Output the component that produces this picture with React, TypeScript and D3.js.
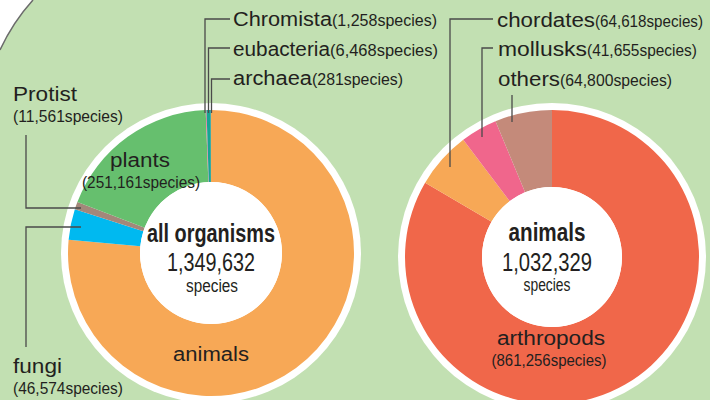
import React from 'react';
import * as d3 from 'd3';

// all organisms, clockwise from 12 o'clock
const leftNames = ['animals', 'fungi', 'Protist', 'plants', 'Chromista', 'eubacteria', 'archaea'];
const leftValues = [1032329, 46574, 11561, 251161, 1258, 6468, 281];
const leftColors = ['#f7a856', '#00b9f0', '#a3877a', '#66bf6e', '#ec6f9c', '#17a592', '#6a8fc8'];

// animals, clockwise from 12 o'clock
const rightNames = ['arthropods', 'chordates', 'mollusks', 'others'];
const rightValues = [861256, 64618, 41655, 64800];
const rightColors = ['#f0674a', '#f7a856', '#f0668c', '#c48a7a'];

const W = 710;
const H = 400;
const BG = '#c2e0b2';
const INK = '#231f20';
const LINE = '#4a4a4a';
const FONT = "'Liberation Sans', Arial, Helvetica, sans-serif";
const VSIZE = 16.5; // size of the "(n species)" parts

const fmt = d3.format(',');
const species = (v: number) => `(${fmt(v)}species)`;

const pie = d3.pie<number>().sort(null).value(d => d).startAngle(0).endAngle(2 * Math.PI);

// text squeezed to the width it has in the reference
const Fit = ({ x, y, w, size, children, anchor = 'start', bold = false }) => (
  <text x={x} y={y} textAnchor={anchor} fontFamily={FONT} fontSize={size}
    fontWeight={bold ? 'bold' : 'normal'} fill={INK} textLength={w} lengthAdjust="spacingAndGlyphs">
    {children}
  </text>
);

// name + (value) on one line
const Inline = ({ x, y, nw, vw, name, value }) => (
  <g>
    <Fit x={x} y={y} w={nw} size={20}>{name}</Fit>
    <Fit x={x + nw} y={y} w={vw} size={VSIZE}>{species(value)}</Fit>
  </g>
);

// name above (value)
const Stack = ({ x, y, nw, vw, name, value, anchor = 'start', vx = x }) => (
  <g>
    <Fit x={x} y={y} w={nw} size={20} anchor={anchor}>{name}</Fit>
    <Fit x={vx} y={y + 21} w={vw} size={VSIZE} anchor={anchor}>{species(value)}</Fit>
  </g>
);

const Donut = ({ cx, cy, r, inner, values, colors }) => {
  const arc = d3.arc<d3.PieArcDatum<number>>().innerRadius(inner).outerRadius(r);
  const slices = pie(values);
  return (
    <g transform={`translate(${cx},${cy})`}>
      <circle r={r + 7} fill="#fff" />
      {slices.map((s, i) => (
        <path key={i} d={arc(s) || ''} fill={colors[i]} />
      ))}
      <circle r={inner} fill="#fff" />
    </g>
  );
};

const poly = (pts: number[][]) => d3.line()(pts as [number, number][]) || '';

export default function App() {
  const L = { cx: 211, cy: 253, r: 143, inner: 71 };
  const R = { cx: 552, cy: 257, r: 147, inner: 70 };

  return (
    <div style={{ position: 'absolute', left: 0, top: 0 }}>
      <svg width={W} height={H} style={{ display: 'block' }}>
        <rect width={W} height={H} fill={BG} />
        {/* white corner of the page */}
        <path d="M0,0 L33,0 Q13,22 0,50 Z" fill="#fff" />
        <path d="M33,0 Q13,22 0,50" fill="none" stroke="#6b6b6b" strokeWidth={1.5} />

        <Donut {...L} values={leftValues} colors={leftColors} />
        <Donut {...R} values={rightValues} colors={rightColors} />

        {/* centre texts */}
        <Fit x={L.cx} y={242} w={128} size={25} anchor="middle" bold>all organisms</Fit>
        <Fit x={L.cx} y={271} w={88} size={25} anchor="middle">{fmt(d3.sum(leftValues))}</Fit>
        <Fit x={L.cx + 1} y={292} w={52} size={18} anchor="middle">species</Fit>
        <Fit x={R.cx - 5} y={241} w={77} size={25} anchor="middle" bold>animals</Fit>
        <Fit x={R.cx - 5} y={271} w={90} size={25} anchor="middle">{fmt(d3.sum(rightValues))}</Fit>
        <Fit x={R.cx - 5} y={291} w={47} size={18} anchor="middle">species</Fit>

        <g fill="none" stroke={LINE} strokeWidth={1.3}>
          {/* left leaders */}
          <path d={poly([[26, 135], [26, 208], [81, 208]])} />
          <path d={poly([[26, 347], [26, 227], [81, 227]])} />
          <path d={poly([[230, 19], [205, 19], [205, 113]])} />
          <path d={poly([[230, 48], [208.5, 48], [208.5, 113]])} />
          <path d={poly([[230, 79], [211.5, 79], [211.5, 113]])} />
          {/* right leaders */}
          <path d={poly([[493, 19], [450, 19], [450, 167]])} />
          <path d={poly([[493, 48], [482, 48], [482, 137]])} />
          <path d={poly([[512, 95], [512, 122]])} />
        </g>

        {/* left labels */}
        <Inline x={233} y={26} nw={99} vw={105} name={leftNames[4]} value={leftValues[4]} />
        <Inline x={233} y={56} nw={97} vw={108} name={leftNames[5]} value={leftValues[5]} />
        <Inline x={233} y={85} nw={79} vw={91} name={leftNames[6]} value={leftValues[6]} />
        <Stack x={13} y={101} nw={64} vw={110} name={leftNames[2]} value={leftValues[2]} />
        <Stack x={13} y={373} nw={49} vw={110} name={leftNames[1]} value={leftValues[1]} />
        <Stack x={140} y={167} nw={60} vw={118} vx={141} name={leftNames[3]} value={leftValues[3]} anchor="middle" />
        <Fit x={L.cx} y={361} w={76} size={20} anchor="middle">{leftNames[0]}</Fit>

        {/* right labels */}
        <Inline x={497} y={27} nw={98} vw={108} name={rightNames[1]} value={rightValues[1]} />
        <Inline x={498} y={56} nw={89} vw={110} name={rightNames[2]} value={rightValues[2]} />
        <Inline x={498} y={86} nw={62} vw={112} name={rightNames[3]} value={rightValues[3]} />
        <Stack x={551} y={345} nw={108} vw={115} vx={549} name={rightNames[0]} value={rightValues[0]} anchor="middle" />
      </svg>
    </div>
  );
}
